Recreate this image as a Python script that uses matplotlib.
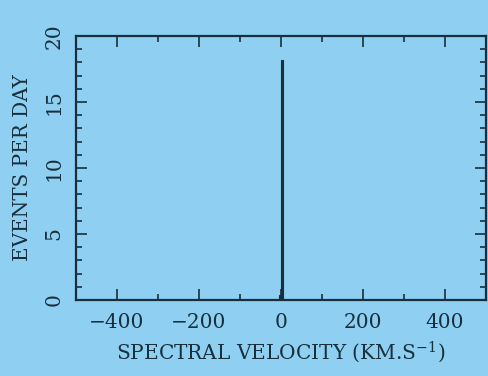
import numpy as np
import matplotlib.pyplot as plt
from matplotlib.ticker import MultipleLocator

# histogram bins (km/s) and event rates
velocity = [-2, 2.5]
events = [0.4, 18.2]
bin_width = 5

bg = '#8ecff2'
ink = '#18303c'

plt.rcParams['font.family'] = ['DejaVu Serif']
plt.rcParams['mathtext.fontset'] = 'dejavuserif'

fig = plt.figure(figsize=(4.88, 3.76), dpi=100, facecolor=bg)
ax = fig.add_axes([76 / 488, 1 - 300 / 376, 410 / 488, 264 / 376])
ax.set_facecolor(bg)

ax.bar(velocity, events, width=bin_width, color=ink, edgecolor=ink, linewidth=0.8)

ax.set_xlim(-500, 500)
ax.set_ylim(0, 20)
ax.xaxis.set_major_locator(MultipleLocator(200))
ax.xaxis.set_minor_locator(MultipleLocator(100))
ax.yaxis.set_major_locator(MultipleLocator(5))
ax.yaxis.set_minor_locator(MultipleLocator(1))

ax.tick_params(which='both', direction='in', top=True, right=True, colors=ink,
               width=1.2, labelsize=14.5, pad=9)
ax.tick_params(which='major', length=8)
ax.tick_params(which='minor', length=4)
ax.set_xticks([-400, -200, 0, 200, 400])
ax.set_xticklabels(['\u2212400', '\u2212200', '0', '200', '400'])
for lbl in ax.get_yticklabels():
    lbl.set_rotation(90)
    lbl.set_va('center')

for s in ax.spines.values():
    s.set_color(ink)
    s.set_linewidth(1.6)

ax.set_xlabel('SPECTRAL VELOCITY (KM.S$^{-1}$)', fontsize=14.5, color=ink, labelpad=6)
ax.set_ylabel('EVENTS PER DAY', fontsize=14.3, color=ink, labelpad=9)

fig.savefig('out.png', dpi=100, facecolor=bg)
